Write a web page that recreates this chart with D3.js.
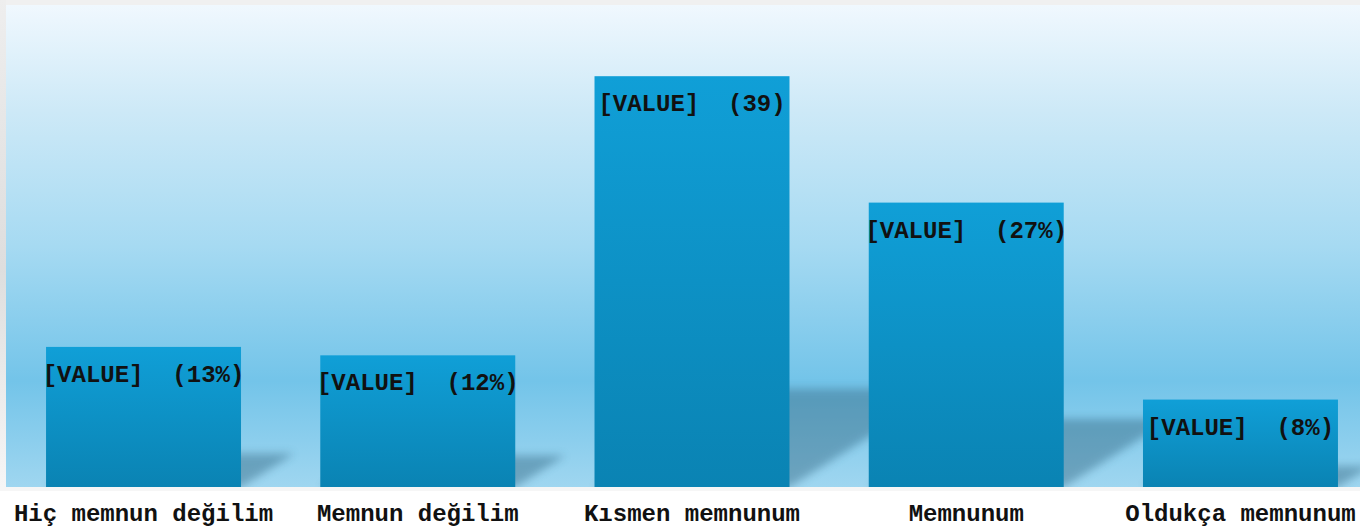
<!DOCTYPE html>
<html>
<head>
<meta charset="utf-8">
<script src="https://cdn.jsdelivr.net/npm/d3@7"></script>
<style>
  body { margin: 0; background: #ffffff; overflow: hidden; }
  text { font-family: "Liberation Mono", "Courier New", monospace; font-weight: bold; white-space: pre; }
</style>
</head>
<body>
<script>
var width = 1360;
var height = 528;
var plot = {left: 6, top: 5, right: 1378, bottom: 487};

// chart data
var categories = ["Hiç memnun değilim", "Memnun değilim", "Kısmen memnunum", "Memnunum", "Oldukça memnunum"];
var values = [13.3, 12.5, 39, 27, 8.3];
var valueLabels = ["[VALUE]  (13%)", "[VALUE]  (12%)", "[VALUE]  (39)", "[VALUE]  (27%)", "[VALUE]  (8%)"];

var svg = d3.select("body").append("svg")
    .attr("width", width)
    .attr("height", height);

var defs = svg.append("defs");

// background gradient of the plot area
var bg = defs.append("linearGradient")
    .attr("id", "bg")
    .attr("x1", 0).attr("y1", 0).attr("x2", 0).attr("y2", 1);
bg.append("stop").attr("offset", "0%").attr("stop-color", "#f0f8fe");
bg.append("stop").attr("offset", "22%").attr("stop-color", "#cde9f7");
bg.append("stop").attr("offset", "50%").attr("stop-color", "#a6daf2");
bg.append("stop").attr("offset", "78%").attr("stop-color", "#73c4e9");
bg.append("stop").attr("offset", "100%").attr("stop-color", "#9fd6f0");

var barGrad = defs.append("linearGradient")
    .attr("id", "barGrad")
    .attr("x1", 0).attr("y1", 0).attr("x2", 0).attr("y2", 1);
barGrad.append("stop").attr("offset", "0%").attr("stop-color", "#109fd7");
barGrad.append("stop").attr("offset", "100%").attr("stop-color", "#0a83b3");

var side = defs.append("linearGradient")
    .attr("id", "side")
    .attr("x1", 0).attr("y1", 0).attr("x2", 0).attr("y2", 1);
side.append("stop").attr("offset", "0%").attr("stop-color", "#eeeeee");
side.append("stop").attr("offset", "55%").attr("stop-color", "#dedede");
side.append("stop").attr("offset", "100%").attr("stop-color", "#f6f6f6");

defs.append("filter")
    .attr("id", "blur")
    .attr("x", "-50%").attr("y", "-50%").attr("width", "200%").attr("height", "200%")
  .append("feGaussianBlur")
    .attr("stdDeviation", 4);

defs.append("clipPath")
    .attr("id", "plotClip")
  .append("rect")
    .attr("x", plot.left)
    .attr("y", plot.top)
    .attr("width", width - plot.left)
    .attr("height", plot.bottom - plot.top);

// frame around the plot
svg.append("rect")
    .attr("x", 0).attr("y", 0)
    .attr("width", width).attr("height", plot.top)
    .style("fill", "#f0f0f0");

svg.append("rect")
    .attr("x", 0).attr("y", 0)
    .attr("width", plot.left).attr("height", plot.bottom)
    .style("fill", "url(#side)");

svg.append("rect")
    .attr("x", plot.left).attr("y", plot.top)
    .attr("width", width - plot.left).attr("height", plot.bottom - plot.top)
    .style("fill", "url(#bg)");

svg.append("rect")
    .attr("x", 0).attr("y", plot.bottom)
    .attr("width", width).attr("height", 4)
    .style("fill", "#f0f0f0")
    .style("opacity", 0.6);

var x = d3.scaleBand()
    .domain(categories)
    .range([plot.left, plot.right])
    .paddingInner(0.289)
    .paddingOuter(0.146);

var y = d3.scaleLinear()
    .domain([0, 45])
    .range([plot.bottom, 13]);

var data = categories.map(function(c, i) {
  return {cat: c, value: values[i], label: valueLabels[i]};
});

// floor shadows behind the bars
var shadows = svg.append("g")
    .attr("clip-path", "url(#plotClip)");

shadows.selectAll("polygon")
    .data(data)
  .enter().append("polygon")
    .attr("points", function(d) {
      var x1 = x(d.cat) + x.bandwidth();
      var h = plot.bottom - y(d.value);
      var sh = h * 0.24;
      var dx = sh / 0.63;
      var x0 = x(d.cat);
      return [[x0, plot.bottom], [x1, plot.bottom], [x1 + dx, plot.bottom - sh], [x0 + dx, plot.bottom - sh]].join(" ");
    })
    .style("fill", "#2a5f7a")
    .style("opacity", 0.42)
    .attr("filter", "url(#blur)");

svg.selectAll(".bar")
    .data(data)
  .enter().append("rect")
    .attr("class", "bar")
    .attr("x", function(d) { return x(d.cat); })
    .attr("y", function(d) { return y(d.value); })
    .attr("width", x.bandwidth())
    .attr("height", function(d) { return plot.bottom - y(d.value); })
    .style("fill", "url(#barGrad)");

svg.selectAll(".vlabel")
    .data(data)
  .enter().append("text")
    .attr("class", "vlabel")
    .attr("x", function(d) { return x(d.cat) + x.bandwidth() / 2; })
    .attr("y", function(d) { return y(d.value) + 35; })
    .style("text-anchor", "middle")
    .style("font-size", "24px")
    .style("fill", "#111111")
    .text(function(d) { return d.label; });

svg.selectAll(".clabel")
    .data(data)
  .enter().append("text")
    .attr("class", "clabel")
    .attr("x", function(d) { return x(d.cat) + x.bandwidth() / 2; })
    .attr("y", 521)
    .style("text-anchor", "middle")
    .style("font-size", "24px")
    .style("fill", "#111111")
    .text(function(d) { return d.cat; });
</script>
</body>
</html>
